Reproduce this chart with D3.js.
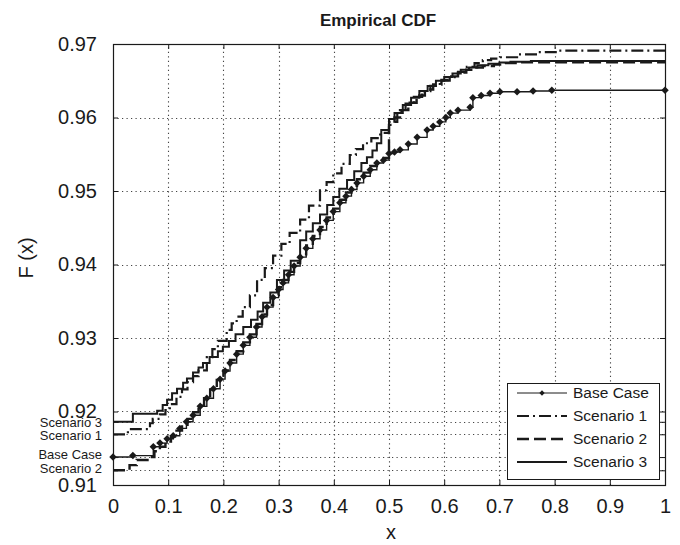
<!DOCTYPE html>
<html>
<head>
<meta charset="utf-8">
<script src="https://cdn.jsdelivr.net/npm/d3@7"></script>
<style>
    html, body { margin: 0; padding: 0; background: #fff; }
    svg { display: block; font-family: "Liberation Sans", Arial, Helvetica, sans-serif; }
</style>
</head>
<body>
<div id="chart"></div>
<script>
// Axis ticks
const xTicks = [0, 0.1, 0.2, 0.3, 0.4, 0.5, 0.6, 0.7, 0.8, 0.9, 1];
const yTicks = [0.91, 0.92, 0.93, 0.94, 0.95, 0.96, 0.97];

// Starting levels marked on the y axis
const startLabels = ['Scenario 3', 'Scenario 1', 'Base Case', 'Scenario 2'];
const startValues = [0.9186, 0.9169, 0.9138, 0.9120];

// Series (x where the step occurs, F after the step)
const seriesNames = ['Base Case', 'Scenario 1', 'Scenario 2', 'Scenario 3'];

const baseCaseX = [0, 0.036, 0.073, 0.085, 0.098, 0.109, 0.121, 0.133, 0.145, 0.158, 0.170, 0.182, 0.194, 0.203, 0.212, 0.224, 0.236, 0.248, 0.260, 0.270,
    0.279, 0.290, 0.300, 0.308, 0.318, 0.328, 0.339, 0.350, 0.362, 0.375, 0.387, 0.399, 0.411, 0.422, 0.432, 0.442, 0.454, 0.466, 0.478, 0.490,
    0.500, 0.510, 0.520, 0.535, 0.551, 0.569, 0.580, 0.592, 0.603, 0.611, 0.625, 0.647, 0.652, 0.667, 0.683, 0.701, 0.732, 0.761, 0.795, 1.0];
const baseCaseF = [0.9138, 0.9140, 0.9152, 0.9157, 0.9163, 0.9167, 0.9177, 0.9186, 0.9195, 0.9207, 0.9218, 0.9231, 0.9244, 0.9255, 0.9266, 0.9278, 0.9290, 0.9301, 0.9315, 0.9329,
    0.9342, 0.9355, 0.9366, 0.9375, 0.9386, 0.9398, 0.9410, 0.9422, 0.9435, 0.9447, 0.9460, 0.9472, 0.9484, 0.9493, 0.9502, 0.9511, 0.9520, 0.9529, 0.9538, 0.9542,
    0.9551, 0.9553, 0.9556, 0.9564, 0.9573, 0.9583, 0.9588, 0.9594, 0.9600, 0.9606, 0.9610, 0.9614, 0.9627, 0.9630, 0.9633, 0.9635, 0.9635, 0.9636, 0.9637, 0.9637];

const scenario1X = [0, 0.027, 0.067, 0.072, 0.085, 0.095, 0.103, 0.115, 0.125, 0.135, 0.145, 0.155, 0.170, 0.180, 0.190, 0.206, 0.215, 0.224, 0.235, 0.248,
    0.261, 0.275, 0.290, 0.305, 0.320, 0.339, 0.355, 0.375, 0.387, 0.399, 0.414, 0.429, 0.440, 0.453, 0.468, 0.484, 0.500, 0.515, 0.530, 0.545,
    0.560, 0.575, 0.592, 0.610, 0.625, 0.641, 0.655, 0.670, 0.685, 0.701, 0.732, 0.770, 0.804];
const scenario1F = [0.9169, 0.9176, 0.9184, 0.9190, 0.9196, 0.9202, 0.9210, 0.9220, 0.9230, 0.9240, 0.9248, 0.9256, 0.9274, 0.9285, 0.9296, 0.9311, 0.9320, 0.9329, 0.9342, 0.9358,
    0.9379, 0.9395, 0.9412, 0.9428, 0.9443, 0.9461, 0.9480, 0.9501, 0.9512, 0.9524, 0.9537, 0.9549, 0.9557, 0.9565, 0.9572, 0.9579, 0.9594, 0.9608, 0.9619, 0.9628,
    0.9636, 0.9643, 0.9650, 0.9655, 0.9662, 0.9669, 0.9674, 0.9678, 0.9680, 0.9682, 0.9686, 0.9689, 0.9691];

const scenario2X = [0, 0.030, 0.043, 0.067, 0.075, 0.085, 0.095, 0.105, 0.115, 0.125, 0.135, 0.145, 0.155, 0.165, 0.176, 0.188, 0.200, 0.212, 0.224, 0.236,
    0.248, 0.260, 0.270, 0.279, 0.290, 0.300, 0.308, 0.318, 0.328, 0.339, 0.350, 0.362, 0.375, 0.387, 0.399, 0.411, 0.422, 0.432, 0.442, 0.454,
    0.466, 0.478, 0.490, 0.500, 0.510, 0.520, 0.535, 0.550, 0.565, 0.580, 0.595, 0.610, 0.625, 0.640, 0.655, 0.670, 0.690, 0.710, 0.735, 0.760];
const scenario2F = [0.9120, 0.9127, 0.9134, 0.9138, 0.9146, 0.9152, 0.9159, 0.9166, 0.9174, 0.9182, 0.9190, 0.9199, 0.9208, 0.9218, 0.9230, 0.9243, 0.9256, 0.9270, 0.9282, 0.9294,
    0.9305, 0.9319, 0.9332, 0.9345, 0.9358, 0.9369, 0.9379, 0.9390, 0.9402, 0.9414, 0.9426, 0.9439, 0.9451, 0.9464, 0.9476, 0.9488, 0.9498, 0.9507, 0.9516, 0.9525,
    0.9534, 0.9541, 0.9545, 0.9590, 0.9600, 0.9610, 0.9620, 0.9630, 0.9638, 0.9645, 0.9651, 0.9656, 0.9661, 0.9665, 0.9668, 0.9670, 0.9672, 0.9674, 0.9675, 0.9675];

const scenario3X = [0, 0.036, 0.080, 0.090, 0.098, 0.107, 0.116, 0.127, 0.134, 0.145, 0.155, 0.163, 0.175, 0.190, 0.199, 0.210, 0.222, 0.236, 0.250, 0.262,
    0.272, 0.285, 0.297, 0.310, 0.322, 0.339, 0.350, 0.362, 0.375, 0.388, 0.399, 0.410, 0.424, 0.437, 0.450, 0.460, 0.470, 0.478, 0.486, 0.500,
    0.510, 0.525, 0.540, 0.555, 0.570, 0.585, 0.600, 0.615, 0.630, 0.645, 0.660, 0.680, 0.700, 0.720, 0.757];
const scenario3F = [0.9186, 0.9197, 0.9201, 0.9209, 0.9216, 0.9225, 0.9231, 0.9239, 0.9245, 0.9253, 0.9260, 0.9266, 0.9274, 0.9282, 0.9288, 0.9296, 0.9305, 0.9315, 0.9325, 0.9336,
    0.9348, 0.9362, 0.9379, 0.9392, 0.9405, 0.9433, 0.9445, 0.9456, 0.9468, 0.9481, 0.9492, 0.9503, 0.9515, 0.9527, 0.9538, 0.9546, 0.9555, 0.9565, 0.9583, 0.9598,
    0.9606, 0.9617, 0.9627, 0.9636, 0.9643, 0.9650, 0.9655, 0.9660, 0.9665, 0.9668, 0.9671, 0.9673, 0.9675, 0.9676, 0.9677];

// Layout
const CHART = {
    width: 680,
    height: 545,
    margin: { top: 44, right: 15, bottom: 60, left: 113 }
};
const INK = '#1a1a1a';

// Line styles per series
const STYLES = {
    'Base Case': { width: 1.4, dash: null, marker: true },
    'Scenario 1': { width: 2.2, dash: '12,4,2,4', marker: false },
    'Scenario 2': { width: 2.4, dash: '12,5', marker: false },
    'Scenario 3': { width: 2, dash: null, marker: false }
};

/**
 * Pairs x and F arrays and extends the last step to x = 1
 */
function buildPoints(xs, fs) {
    const pts = d3.zip(xs, fs);
    if (pts[pts.length - 1][0] < 1) pts.push([1, pts[pts.length - 1][1]]);
    return pts;
}

function drawChart() {
    const svg = d3.select('#chart').append('svg')
        .attr('width', CHART.width)
        .attr('height', CHART.height);

    const x0 = CHART.margin.left, x1 = CHART.width - CHART.margin.right;
    const y0 = CHART.height - CHART.margin.bottom, y1 = CHART.margin.top;

    const x = d3.scaleLinear().domain([0, 1]).range([x0, x1]);
    const y = d3.scaleLinear().domain([0.91, 0.97]).range([y0, y1]);

    // Grid
    const grid = svg.append('g').attr('stroke', '#444').attr('stroke-width', 1.1)
        .attr('stroke-dasharray', '1.2,3.3');
    grid.selectAll('.gx').data(xTicks.slice(1, -1)).join('line')
        .attr('x1', d => Math.round(x(d)) + 0.5).attr('x2', d => Math.round(x(d)) + 0.5)
        .attr('y1', y0).attr('y2', y1);
    grid.selectAll('.gy').data(yTicks.slice(1, -1).concat(startValues)).join('line')
        .attr('x1', x0).attr('x2', x1)
        .attr('y1', d => Math.round(y(d)) + 0.5).attr('y2', d => Math.round(y(d)) + 0.5);

    // Series
    const series = {
        'Base Case': buildPoints(baseCaseX, baseCaseF),
        'Scenario 1': buildPoints(scenario1X, scenario1F),
        'Scenario 2': buildPoints(scenario2X, scenario2F),
        'Scenario 3': buildPoints(scenario3X, scenario3F)
    };
    const line = d3.line().curve(d3.curveStepAfter)
        .x(d => x(d[0])).y(d => y(d[1]));
    const diamond = d3.symbol(d3.symbolSquare, 28);

    seriesNames.forEach(name => {
        const st = STYLES[name];
        svg.append('path')
            .datum(series[name])
            .attr('fill', 'none')
            .attr('stroke', INK)
            .attr('stroke-width', st.width)
            .attr('stroke-dasharray', st.dash)
            .attr('d', line);
        if (st.marker) {
            svg.append('g').selectAll('path').data(series[name]).join('path')
                .attr('d', diamond)
                .attr('fill', INK)
                .attr('transform', d => `translate(${x(d[0])},${y(d[1])}) rotate(45)`);
        }
    });

    // Axes (inward ticks, box drawn separately)
    const fmt = d3.format('.2f');
    const axB = svg.append('g').attr('transform', `translate(0,${y0})`)
        .call(d3.axisBottom(x).tickValues(xTicks).tickSizeInner(-5).tickSizeOuter(0).tickPadding(14)
            .tickFormat(d => d === 0 || d === 1 ? String(d) : d3.format('.1f')(d)));
    const axT = svg.append('g').attr('transform', `translate(0,${y1})`)
        .call(d3.axisTop(x).tickValues(xTicks).tickSizeInner(-5).tickSizeOuter(0).tickFormat(''));
    const axL = svg.append('g').attr('transform', `translate(${x0},0)`)
        .call(d3.axisLeft(y).tickValues(yTicks).tickSizeInner(-5).tickSizeOuter(0).tickPadding(16).tickFormat(fmt));
    const axR = svg.append('g').attr('transform', `translate(${x1},0)`)
        .call(d3.axisRight(y).tickValues(yTicks.concat(startValues)).tickSizeInner(-5).tickSizeOuter(0).tickFormat(''));
    const axL2 = svg.append('g').attr('transform', `translate(${x0},0)`)
        .call(d3.axisLeft(y).tickValues(startValues).tickSizeInner(-5).tickSizeOuter(0).tickFormat(''));

    [axB, axT, axL, axR, axL2].forEach(ax => {
        ax.select('.domain').remove();
        ax.selectAll('line').attr('stroke', INK);
        ax.selectAll('text').attr('fill', INK).attr('font-size', 20)
            .attr('font-family', '"Liberation Sans", Arial, sans-serif');
    });

    // Labels for the starting levels
    const nudge = [1, 1, -3, -2];
    svg.append('g').selectAll('text').data(startLabels).join('text')
        .attr('x', 102)
        .attr('y', (d, i) => y(startValues[i]) + nudge[i])
        .attr('dy', '0.35em')
        .attr('text-anchor', 'end')
        .attr('font-size', 13)
        .attr('fill', INK)
        .text(d => d);

    // Box
    svg.append('rect')
        .attr('x', x0 + 0.5).attr('y', y1 + 0.5)
        .attr('width', x1 - x0).attr('height', y0 - y1)
        .attr('fill', 'none').attr('stroke', INK).attr('stroke-width', 1.2);

    // Title and axis labels
    svg.append('text')
        .attr('x', 378).attr('y', 26)
        .attr('text-anchor', 'middle')
        .attr('font-size', 17).attr('font-weight', 'bold').attr('fill', INK)
        .text('Empirical CDF');
    svg.append('text')
        .attr('x', (x0 + x1) / 2 + 2).attr('y', 539)
        .attr('text-anchor', 'middle')
        .attr('font-size', 20).attr('fill', INK)
        .text('x');
    svg.append('text')
        .attr('transform', 'translate(33,258) rotate(-90)')
        .attr('text-anchor', 'middle')
        .attr('font-size', 20).attr('fill', INK)
        .text('F (x)');

    drawLegend(svg);
}

/**
 * Legend box in the lower right corner
 */
function drawLegend(svg) {
    const lg = svg.append('g').attr('transform', 'translate(507,383)');
    lg.append('rect')
        .attr('x', 0.5).attr('y', 0.5)
        .attr('width', 152).attr('height', 96)
        .attr('fill', '#fff').attr('stroke', INK).attr('stroke-width', 1);

    seriesNames.forEach((name, i) => {
        const st = STYLES[name];
        const yy = 10 + i * 23;
        lg.append('line')
            .attr('x1', 10).attr('x2', 60)
            .attr('y1', yy).attr('y2', yy)
            .attr('stroke', INK)
            .attr('stroke-width', name === 'Base Case' ? 1 : st.width)
            .attr('stroke-dasharray', st.dash);
        if (st.marker) {
            lg.append('path')
                .attr('d', d3.symbol(d3.symbolSquare, 14)())
                .attr('fill', INK)
                .attr('transform', `translate(35,${yy}) rotate(45)`);
        }
        lg.append('text')
            .attr('x', 66).attr('y', yy)
            .attr('dy', '0.35em')
            .attr('font-size', 15.5)
            .attr('fill', INK)
            .text(name);
    });
}

drawChart();
</script>
</body>
</html>
